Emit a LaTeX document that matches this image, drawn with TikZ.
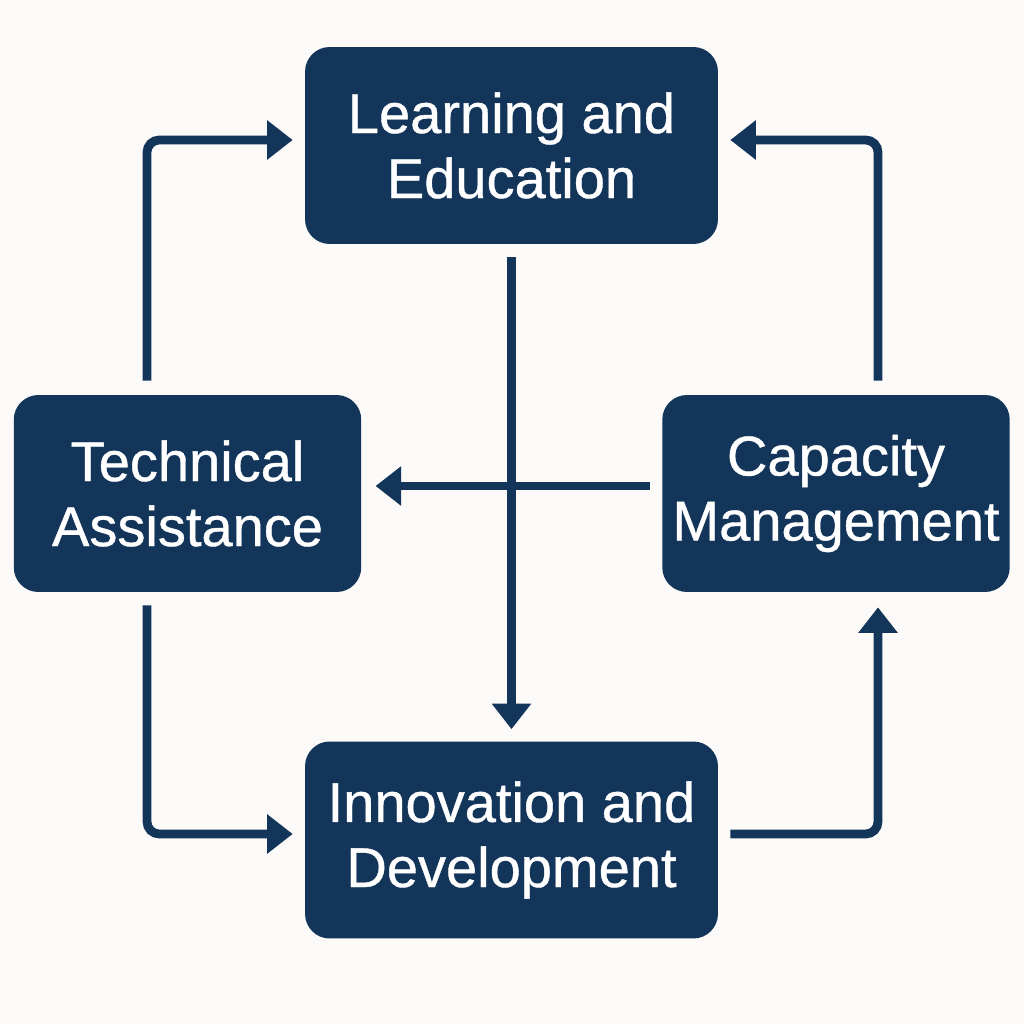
\documentclass[tikz,border=0pt]{standalone}
\usepackage{fontspec}
\setmainfont{Liberation Sans}
\newfontfamily\boxfont{Liberation Sans}[BoldFont={Liberation Sans},BoldFeatures={FakeBold=0.7}]
\usetikzlibrary{arrows.meta}

\definecolor{navy}{RGB}{20,53,90}
\definecolor{paper}{RGB}{251,250,248}

\tikzset{
	box/.style={draw=none,fill=navy,text=white,rounded corners=14pt,align=center,
		minimum height=3.94cm,font=\boxfont\bfseries\fontsize{31.9}{37}\selectfont},
	wide/.style={box,minimum width=8.26cm},
	narrow/.style={box,minimum width=6.95cm},
	link/.style={draw=navy,line width=5pt,rounded corners=7pt,
		-{Triangle[length=14.5pt,width=21.5pt]}}
}

\begin{document}
\begin{tikzpicture}[x=0.02cm,y=-0.02cm]
	\fill[paper] (0,0) rectangle (1024,1024);
	\useasboundingbox (0,0) rectangle (1024,1024);

	\node[wide] (learn) at (511.5,145.5) {Learning and\\Education};
	\node[narrow] (tech) at (187.5,493.5) {Technical\\Assistance};
	\node[narrow] (cap) at (836,493.5) {Capacity\\Management};
	\node[wide] (innov) at (511.5,840) {Innovation and\\Development};

	\coordinate (tl) at (147,140);
	\coordinate (tr) at (878,140);
	\coordinate (bl) at (147,834);
	\coordinate (br) at (878,834);
	\coordinate (mid) at (512,486);

	\draw[link] (tech.north -| tl) ++(0,-14) |- ([xshift=-12*0.02cm]learn.west |- tl);
	\draw[link] (cap.north -| tr) ++(0,-14) |- ([xshift=12*0.02cm]learn.east |- tr);
	\draw[link] ([yshift=-13*0.02cm]learn.south) -- ([yshift=12*0.02cm]innov.north);
	\draw[link] ([xshift=-12*0.02cm]cap.west |- mid) -- ([xshift=14*0.02cm]tech.east |- mid);
	\draw[link] (tech.south -| bl) ++(0,13) |- ([xshift=-12*0.02cm]innov.west |- bl);
	\draw[link] ([xshift=12*0.02cm]innov.east |- br) -| ([yshift=-15*0.02cm]cap.south -| br);
\end{tikzpicture}
\end{document}
